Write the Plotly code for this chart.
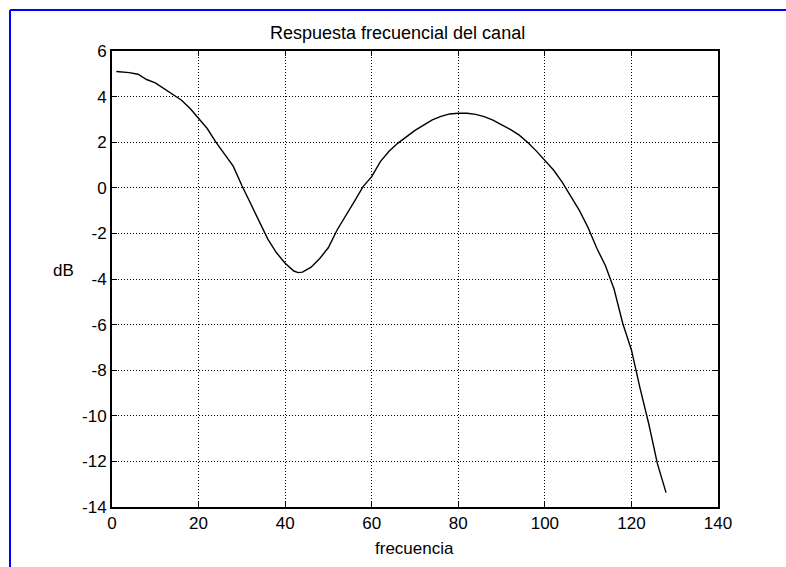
import plotly.graph_objects as go

# Channel frequency response
frecuencia = [1, 4, 6, 8, 10, 12, 14, 16, 18, 20, 22, 24, 26, 28, 30, 32, 34, 36, 38, 40,
              42, 43, 44, 46, 48, 50, 52, 54, 56, 58, 60, 62, 64, 66, 68, 70, 72, 74, 76, 78,
              80, 82, 84, 86, 88, 90, 92, 94, 96, 98, 100, 102, 104, 106, 108, 110, 112, 114,
              116, 118, 120, 122, 124, 126, 128]
respuesta_db = [5.10, 5.05, 4.98, 4.75, 4.60, 4.36, 4.10, 3.85, 3.49, 3.05, 2.60, 2.00, 1.45,
                0.95, 0.10, -0.70, -1.50, -2.25, -2.85, -3.31, -3.65, -3.72, -3.70, -3.48,
                -3.10, -2.62, -1.85, -1.25, -0.60, 0.05, 0.49, 1.15, 1.60, 1.95, 2.25, 2.52,
                2.75, 2.98, 3.13, 3.24, 3.27, 3.27, 3.22, 3.12, 2.97, 2.78, 2.56, 2.32, 2.00,
                1.62, 1.22, 0.78, 0.25, -0.37, -1.00, -1.75, -2.65, -3.42, -4.45, -5.95,
                -7.11, -8.80, -10.35, -12.10, -13.37]

x_ticks = [0, 20, 40, 60, 80, 100, 120, 140]
y_ticks = [6, 4, 2, 0, -2, -4, -6, -8, -10, -12, -14]

titulo = "Respuesta frecuencial del canal"
etiqueta_x = "frecuencia"
etiqueta_y = "dB"

FONT = "Liberation Sans, Arial, sans-serif"
FS = 17

fig = go.Figure()
fig.add_trace(go.Scatter(x=frecuencia, y=respuesta_db, mode="lines",
                         line=dict(color="black", width=1.4), showlegend=False,
                         hoverinfo="skip"))

axis_common = dict(
    showline=True, linecolor="black", linewidth=2, mirror="ticks",
    ticks="inside", ticklen=5, tickwidth=1, tickcolor="black",
    showgrid=True, gridcolor="black", gridwidth=1, griddash="1px,2px",
    zeroline=False, tickfont=dict(family=FONT, size=FS, color="black"),
)

fig.update_xaxes(range=[0, 140], tickvals=x_ticks, ticktext=[str(v) for v in x_ticks],
                 **axis_common)
fig.update_yaxes(range=[-14, 6], tickvals=y_ticks, ticktext=[str(v) for v in y_ticks],
                 **axis_common)

# plot area lands at x 112-718, y 51-507 (page body margin removed below)
PL, PT, PR, PB = 112, 51, 718, 507
W, H = 786, 567
pw, ph = PR - PL, PB - PT


def px(xp):
    return (xp - PL) / pw


def py(yp):
    return (PB - yp) / ph


fig.update_layout(
    width=W, height=H,
    margin=dict(l=PL, r=W - PR, t=PT, b=H - PB, pad=0),
    paper_bgcolor="white", plot_bgcolor="white",
    font=dict(family=FONT, size=FS, color="black"),
    hovermode=False,
    annotations=[
        dict(text=titulo, xref="paper", yref="paper", x=px(397), y=py(33),
             showarrow=False, xanchor="center", yanchor="middle",
             font=dict(family=FONT, size=18, color="black")),
        dict(text=etiqueta_x, xref="paper", yref="paper", x=px(414), y=py(548),
             showarrow=False, xanchor="center", yanchor="middle",
             font=dict(family=FONT, size=FS, color="black")),
        dict(text=etiqueta_y, xref="paper", yref="paper", x=px(63), y=py(270),
             showarrow=False, xanchor="center", yanchor="middle",
             font=dict(family=FONT, size=FS, color="black")),
    ],
    shapes=[
        dict(type="line", xref="paper", yref="paper",
             x0=px(10), x1=px(10), y0=py(10), y1=py(567),
             line=dict(color="#0000ff", width=2)),
        dict(type="line", xref="paper", yref="paper",
             x0=px(10), x1=px(786), y0=py(10), y1=py(10),
             line=dict(color="#0000ff", width=2)),
    ],
)

fig.write_html(
    "out.html",
    config={"displayModeBar": False, "staticPlot": True},
    post_script="document.body.style.margin='0';document.body.style.overflow='hidden';",
)
